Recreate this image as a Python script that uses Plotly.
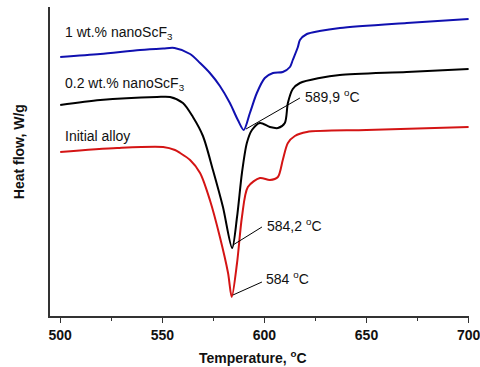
import plotly.graph_objects as go

# Temperature (°C) and heat flow (arbitrary units, curves offset)
t_blue = [500, 519.6, 539.1, 550.4, 556.0, 563.6, 568.5, 573.3, 578.2, 583.1, 587.0, 589.9,
          592.9, 596.3, 600.2, 604.2, 609.0, 612.5, 613.9, 616.4, 617.4, 620.8, 627.0, 637.0, 669.7, 700]
hf_blue = [2.59, 2.62, 2.66, 2.675, 2.68, 2.62, 2.53, 2.43, 2.30, 2.13, 1.96, 1.86,
           2.03, 2.23, 2.38, 2.43, 2.44, 2.49, 2.56, 2.69, 2.76, 2.82, 2.85, 2.88, 2.93, 2.97]

t_black = [500, 519.6, 547.4, 553.8, 560.1, 565.0, 569.9, 574.8, 579.7, 584.2, 586.6, 589.0,
           591.4, 593.9, 597.8, 602.7, 606.6, 610.0, 611.5, 613.9, 617.4, 627.0, 636.9, 669.7, 700]
hf_black = [2.11, 2.16, 2.19, 2.19, 2.13, 1.99, 1.80, 1.46, 1.09, 0.68, 0.99, 1.43,
            1.73, 1.86, 1.93, 1.89, 1.88, 1.93, 2.13, 2.27, 2.33, 2.38, 2.41, 2.44, 2.47]

t_red = [500, 527.9, 550.4, 556.2, 558.7, 563.6, 568.5, 573.3, 578.2, 582.2, 584.0, 586.6,
         589.0, 591.9, 597.8, 602.7, 606.6, 609.0, 611.5, 614.9, 620.8, 650.0, 700]
hf_red = [1.64, 1.68, 1.69, 1.66, 1.63, 1.56, 1.43, 1.16, 0.79, 0.43, 0.19, 0.53,
          0.99, 1.29, 1.38, 1.36, 1.39, 1.56, 1.73, 1.80, 1.84, 1.86, 1.89]

x_ticks = [500, 550, 600, 650, 700]

FONT = "Liberation Sans, Arial, sans-serif"

fig = go.Figure()
for t, hf, col in [(t_blue, hf_blue, "#1010b0"), (t_black, hf_black, "#000000"), (t_red, hf_red, "#d41414")]:
    fig.add_trace(go.Scatter(x=t, y=hf, mode="lines",
                             line=dict(color=col, width=2, shape="spline", smoothing=0.8),
                             showlegend=False, hoverinfo="skip"))

# leader lines for peak annotations
leaders = [((591.0, 1.87), (617.4, 2.18)),
           ((584.6, 0.71), (598.8, 0.89)),
           ((584.6, 0.21), (598.8, 0.34))]
for (x0, y0), (x1, y1) in leaders:
    fig.add_shape(type="line", x0=x0, y0=y0, x1=x1, y1=y1, xref="x", yref="y",
                  line=dict(color="black", width=1))

notes = [(618.8, 2.20, "589,9 <sup>o</sup>C"),
         (600.2, 0.91, "584,2 <sup>o</sup>C"),
         (599.8, 0.38, "584 <sup>o</sup>C"),
         (501.5, 2.83, "1 wt.% nanoScF<sub>3</sub>"),
         (501.5, 2.32, "0.2 wt.% nanoScF<sub>3</sub>"),
         (501.5, 1.80, "Initial alloy")]
for x, y, txt in notes:
    fig.add_annotation(x=x, y=y, xref="x", yref="y", text=txt, showarrow=False,
                       xanchor="left", yanchor="middle",
                       font=dict(family=FONT, size=14, color="#111"))

fig.add_annotation(x=0.485, y=0, xref="paper", yref="paper", yshift=-41,
                   text="<b>Temperature, <sup>o</sup>C</b>", showarrow=False,
                   xanchor="center", yanchor="middle",
                   font=dict(family=FONT, size=14, color="#111"))
fig.add_annotation(x=0, y=0.53, xref="paper", yref="paper", xshift=-31,
                   text="<b>Heat flow, W/g</b>", showarrow=False, textangle=-90,
                   xanchor="center", yanchor="middle",
                   font=dict(family=FONT, size=14, color="#111"))

fig.update_layout(
    width=480, height=367,
    margin=dict(l=50, r=11, t=7, b=51, autoexpand=False),
    paper_bgcolor="white", plot_bgcolor="white",
    font=dict(family=FONT, color="#111"),
    xaxis=dict(range=[495, 700.2], tickvals=x_ticks, ticktext=[f"<b>{v}</b>" for v in x_ticks],
               ticks="outside", ticklen=5, tickwidth=1.2, tickcolor="#333",
               ticklabeloverflow="allow", automargin=False,
               showline=True, linecolor="#333", linewidth=1.5, showgrid=False, zeroline=False,
               tickfont=dict(family=FONT, size=14, color="#111"),
               minor=dict(ticks="outside", dtick=25, tick0=500, ticklen=3, tickcolor="#333", tickwidth=1, showgrid=False)),
    yaxis=dict(range=[0, 3.09], showticklabels=False, ticks="", showline=True, automargin=False,
               linecolor="#333", linewidth=1.5, showgrid=False, zeroline=False),
)

fig.write_html("out.html", config={"displayModeBar": False},
               post_script="document.body.style.margin='0';")
